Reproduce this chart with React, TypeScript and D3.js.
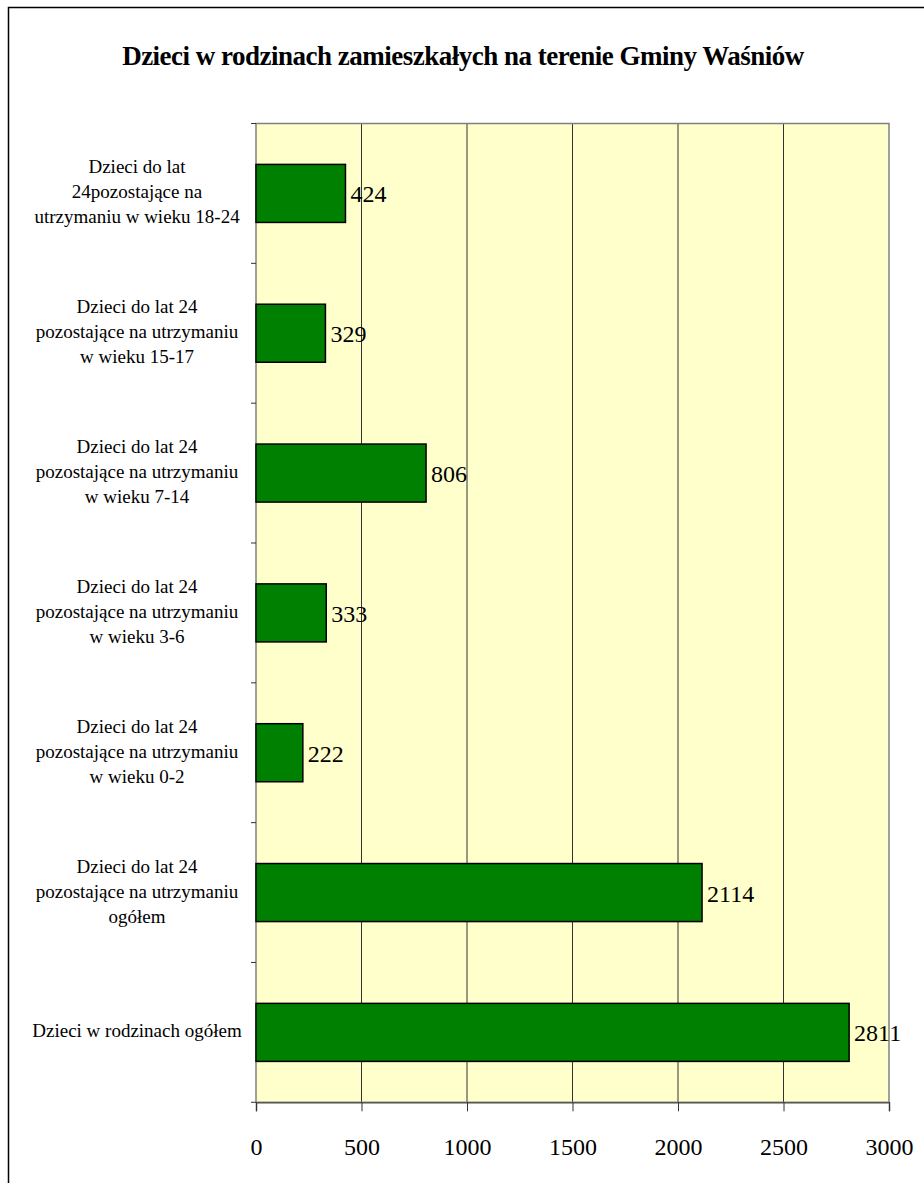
import React, { useEffect, useRef } from 'react';
import * as d3 from 'd3';

const categories: string[][] = [
  ['Dzieci do lat', '24pozostające na', 'utrzymaniu w wieku 18-24'],
  ['Dzieci do lat 24', 'pozostające na utrzymaniu', 'w wieku 15-17'],
  ['Dzieci do lat 24', 'pozostające na utrzymaniu', 'w wieku 7-14'],
  ['Dzieci do lat 24', 'pozostające na utrzymaniu', 'w wieku 3-6'],
  ['Dzieci do lat 24', 'pozostające na utrzymaniu', 'w wieku 0-2'],
  ['Dzieci do lat 24', 'pozostające na utrzymaniu', 'ogółem'],
  ['Dzieci w rodzinach ogółem'],
];
const values = [424, 329, 806, 333, 222, 2114, 2811];
const xTicks = [0, 500, 1000, 1500, 2000, 2500, 3000];
const title = 'Dzieci w rodzinach zamieszkałych na terenie Gminy Waśniów';

const App = () => {
  const ref = useRef<SVGSVGElement>(null);

  useEffect(() => {
    if (!ref.current) return;
    const svg = d3.select(ref.current);
    svg.selectAll('*').remove();

    const W = 924, H = 1183;
    const left = 256, right = 889, top = 123.5, bottom = 1102.3;
    const font = '"Liberation Serif", "Times New Roman", serif';

    const x = d3.scaleLinear().domain([0, 3000]).range([left, right]);
    const y = d3.scaleBand<number>()
      .domain(d3.range(values.length))
      .range([top, bottom])
      .paddingInner(0.585)
      .paddingOuter(0.2925);

    svg.append('rect').attr('width', W).attr('height', H).attr('fill', '#fff');

    // outer frame
    svg.append('rect')
      .attr('x', 8.5).attr('y', 7.5)
      .attr('width', W + 10).attr('height', H + 10)
      .attr('fill', 'none').attr('stroke', '#000').attr('stroke-width', 1.5);

    svg.append('text')
      .attr('x', 463).attr('y', 65)
      .attr('text-anchor', 'middle')
      .attr('font-family', font).attr('font-weight', 'bold').attr('font-size', 27)
      .attr('letter-spacing', -0.5)
      .text(title);

    // plot area
    svg.append('rect')
      .attr('x', left).attr('y', top)
      .attr('width', right - left).attr('height', bottom - top)
      .attr('fill', '#FFFFCC');

    svg.append('g')
      .selectAll('line')
      .data(xTicks.slice(1, -1))
      .join('line')
      .attr('x1', d => x(d)).attr('x2', d => x(d))
      .attr('y1', top).attr('y2', bottom)
      .attr('stroke', '#333').attr('stroke-width', 1);

    svg.append('rect')
      .attr('x', left).attr('y', top)
      .attr('width', right - left).attr('height', bottom - top)
      .attr('fill', 'none').attr('stroke', '#808080').attr('stroke-width', 1.5);

    // y ticks at band boundaries
    const step = y.step();
    svg.append('g')
      .selectAll('line')
      .data(d3.range(values.length + 1))
      .join('line')
      .attr('x1', left - 5).attr('x2', left)
      .attr('y1', i => top + i * step).attr('y2', i => top + i * step)
      .attr('stroke', '#333').attr('stroke-width', 1);

    // x axis
    const xAxis = svg.append('g')
      .attr('transform', `translate(0,${bottom})`)
      .call(d3.axisBottom(x).tickValues(xTicks).tickSize(9).tickFormat(d3.format('d')));
    xAxis.select('.domain').attr('stroke', '#555').attr('stroke-width', 1.5);
    xAxis.selectAll('.tick line').attr('stroke', '#333');
    xAxis.selectAll('.tick text')
      .attr('font-family', font).attr('font-size', 24).attr('fill', '#000')
      .attr('dy', null).attr('y', 53);

    // bars
    svg.append('g')
      .selectAll('rect')
      .data(values)
      .join('rect')
      .attr('x', x(0))
      .attr('y', (_, i) => y(i)!)
      .attr('width', d => x(d) - x(0))
      .attr('height', y.bandwidth())
      .attr('fill', '#008000')
      .attr('stroke', '#000').attr('stroke-width', 1.5);

    // value labels
    svg.append('g')
      .selectAll('text')
      .data(values)
      .join('text')
      .attr('x', d => x(d) + 5)
      .attr('y', (_, i) => y(i)! + y.bandwidth() / 2 + 9)
      .attr('font-family', font).attr('font-size', 24)
      .text(d => String(d));

    // category labels
    const cat = svg.append('g')
      .selectAll('text')
      .data(categories)
      .join('text')
      .attr('text-anchor', 'middle')
      .attr('font-family', font).attr('font-size', 19)
      .attr('transform', (_, i) => `translate(137,${y(i)! + y.bandwidth() / 2 + 5})`);
    cat.selectAll('tspan')
      .data(d => d.map((t, k) => ({ t, k, n: d.length })))
      .join('tspan')
      .attr('x', 0)
      .attr('y', d => (d.k - (d.n - 1) / 2) * 25)
      .text(d => d.t);
  }, []);

  return (
    <svg
      ref={ref}
      width={924}
      height={1183}
      style={{ position: 'absolute', left: 0, top: 0 }}
    />
  );
};

export default App;
